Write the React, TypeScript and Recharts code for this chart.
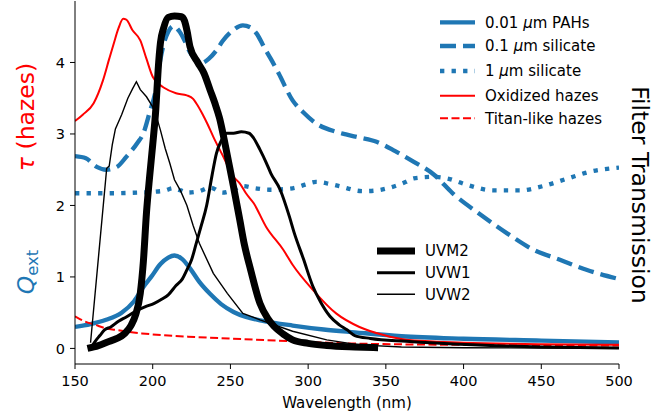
import React from "react";
import { Line, LineChart, XAxis, YAxis } from "recharts";

const FONT = "DejaVu Sans, Verdana, sans-serif";
const BLUE = "#1f77b4";
const RED = "#ff0000";

// x ticks / y ticks
const xTicks = [150, 200, 250, 300, 350, 400, 450, 500];
const yTicks = [0, 1, 2, 3, 4];

// 0.01 um PAHs
const pahWl = [150, 160, 170, 180, 188, 194, 199, 205, 210, 214, 219, 224, 230, 237, 244, 252, 260, 270, 290, 310, 330, 360, 400, 450, 500];
const pahQ = [0.3, 0.34, 0.4, 0.5, 0.66, 0.86, 1.0, 1.18, 1.27, 1.3, 1.25, 1.12, 0.93, 0.76, 0.62, 0.51, 0.44, 0.39, 0.32, 0.265, 0.225, 0.17, 0.135, 0.11, 0.085];

// 0.1 um silicate
const sil01Wl = [150, 157, 164, 170, 177, 183, 190, 194, 198, 202, 205, 207, 210, 213.5, 217, 220, 224, 228, 231, 236, 241, 245, 250, 258, 263, 267, 272, 276, 281, 290, 297, 305, 318, 325, 333, 344, 356, 368, 381, 393, 411, 428, 445, 462, 479, 500];
const sil01Q = [2.69, 2.66, 2.54, 2.5, 2.54, 2.68, 2.87, 3.01, 3.3, 3.62, 4.05, 4.25, 4.43, 4.51, 4.44, 4.33, 4.14, 4.03, 3.99, 4.05, 4.17, 4.3, 4.42, 4.52, 4.49, 4.4, 4.2, 4.05, 3.85, 3.47, 3.3, 3.15, 3.03, 2.99, 2.95, 2.89, 2.76, 2.61, 2.43, 2.17, 1.87, 1.61, 1.38, 1.24, 1.1, 0.97];

// 1 um silicate
const sil1Wl = [150, 170, 190, 200, 208, 213, 218, 222, 230, 237, 245, 252, 258, 266, 275, 290, 298, 305, 312, 320, 335, 344, 351, 363, 368, 381, 389, 402, 419, 436, 451, 466, 481, 500];
const sil1Q = [2.17, 2.17, 2.18, 2.19, 2.21, 2.24, 2.21, 2.18, 2.2, 2.25, 2.18, 2.22, 2.27, 2.24, 2.22, 2.24, 2.29, 2.33, 2.31, 2.27, 2.2, 2.21, 2.24, 2.33, 2.38, 2.4, 2.38, 2.29, 2.21, 2.21, 2.27, 2.37, 2.47, 2.53];

// oxidized hazes
const oxWl = [150, 155, 162, 168, 172, 175, 178, 181, 183, 187, 192, 196, 200, 204, 207, 215, 222, 226, 228, 232, 235, 239, 245, 252, 256, 260, 265, 273, 284, 290, 303, 318, 333, 348, 363, 400, 450, 500];
const oxTau = [3.18, 3.27, 3.43, 3.75, 4.05, 4.27, 4.48, 4.61, 4.6, 4.45, 4.31, 4.05, 3.8, 3.7, 3.65, 3.57, 3.54, 3.49, 3.43, 3.28, 3.15, 2.96, 2.7, 2.4, 2.31, 2.17, 2.03, 1.7, 1.38, 1.17, 0.82, 0.49, 0.3, 0.19, 0.12, 0.08, 0.06, 0.05];

// titan-like hazes
const titanWl = [150, 155, 163, 170, 176, 185, 193, 210, 227, 258, 290, 333, 400, 500];
const titanTau = [0.45, 0.39, 0.33, 0.28, 0.26, 0.23, 0.21, 0.18, 0.16, 0.13, 0.1, 0.066, 0.05, 0.04];

// filters
const uvm2Wl = [158, 165, 171, 177, 182, 186, 189, 192, 194, 196, 198, 200, 202, 203.5, 205, 207, 210, 214, 218.5, 220.5, 222, 224, 229, 233, 237, 240, 243, 246, 248, 252, 256, 259, 263, 269, 274, 278, 284, 290, 300, 312, 330, 345];
const uvm2T = [0, 0.04, 0.09, 0.14, 0.21, 0.32, 0.47, 0.77, 1.22, 1.9, 2.4, 2.85, 3.35, 3.9, 4.28, 4.48, 4.63, 4.65, 4.64, 4.58, 4.45, 4.22, 4.0, 3.85, 3.61, 3.43, 3.22, 2.92, 2.7, 2.26, 1.8, 1.45, 1.1, 0.63, 0.42, 0.31, 0.2, 0.12, 0.07, 0.04, 0.02, 0.01];

const uvw1Wl = [160, 163, 166, 169, 173, 178, 183, 189, 195, 201, 206, 210, 215, 219, 222, 225, 228, 231, 234.7, 238, 241, 244, 247.6, 252, 257, 262, 265, 269, 273, 276, 282, 288, 291, 297, 303, 308, 314, 320, 325, 330, 340, 363, 406, 450, 500];
const uvw1T = [0, 0.1, 0.18, 0.26, 0.3, 0.38, 0.44, 0.52, 0.58, 0.63, 0.69, 0.75, 0.88, 0.97, 1.1, 1.24, 1.47, 1.7, 2.0, 2.4, 2.73, 2.9, 3.01, 3.01, 3.03, 3.01, 2.94, 2.78, 2.6, 2.45, 2.22, 1.84, 1.62, 1.25, 0.87, 0.65, 0.45, 0.33, 0.26, 0.18, 0.14, 0.1, 0.05, 0.02, 0.005];

const uvw2Wl = [160, 170.4, 172, 174, 176, 180, 184, 187, 189.5, 192, 196, 200, 203, 205, 208, 211, 214, 218, 222, 226, 230, 239, 248, 258, 269, 290, 312, 333, 360, 400, 450, 500];
const uvw2T = [0.08, 2.52, 2.55, 2.85, 3.07, 3.27, 3.5, 3.63, 3.73, 3.62, 3.52, 3.38, 3.2, 3.05, 2.8, 2.59, 2.36, 2.2, 2.0, 1.72, 1.47, 1.05, 0.77, 0.49, 0.4, 0.24, 0.12, 0.05, 0.02, 0.01, 0.005, 0];

const zip = (xs: number[], ys: number[]) => xs.map((x, i) => ({ x, y: ys[i] }));

const W = 652;
const H = 417;

export default function App() {
  const lineProps = { dataKey: "y", dot: false, activeDot: false, isAnimationActive: false } as const;
  return (
    <div style={{ position: "absolute", left: 0, top: 0, width: W, height: H, background: "#fff" }}>
      <LineChart width={W} height={H} margin={{ top: 1, right: 33, bottom: 23, left: 0 }}>
        <XAxis
          dataKey="x"
          type="number"
          domain={[150, 500]}
          ticks={xTicks}
          allowDataOverflow
          height={30}
          tickSize={5}
          tickMargin={7}
          axisLine={{ stroke: "#000" }}
          tickLine={{ stroke: "#000" }}
          tick={{ fill: "#000", fontSize: 14.5, fontFamily: FONT }}
        />
        <XAxis xAxisId="top" orientation="top" type="number" domain={[150, 500]} height={0} tick={false} tickLine={false} axisLine={{ stroke: "#000" }} />
        <YAxis
          type="number"
          domain={[-0.218, 4.86]}
          ticks={yTicks}
          allowDataOverflow
          width={75}
          tickSize={5}
          tickMargin={5}
          axisLine={{ stroke: "#000" }}
          tickLine={{ stroke: "#000" }}
          tick={{ fill: "#000", fontSize: 14.5, fontFamily: FONT }}
        />
        <YAxis yAxisId="right" orientation="right" type="number" domain={[-0.218, 4.86]} width={0} tick={false} tickLine={false} axisLine={{ stroke: "#000" }} />

        <Line {...lineProps} data={zip(pahWl, pahQ)} type="monotone" stroke={BLUE} strokeWidth={4.35} />
        <Line {...lineProps} data={zip(sil01Wl, sil01Q)} type="monotone" stroke={BLUE} strokeWidth={4.35} strokeDasharray="16 7" />
        <Line {...lineProps} data={zip(sil1Wl, sil1Q)} type="monotone" stroke={BLUE} strokeWidth={4.35} strokeDasharray="4.35 7.2" />
        <Line {...lineProps} data={zip(oxWl, oxTau)} type="monotone" stroke={RED} strokeWidth={2} />
        <Line {...lineProps} data={zip(titanWl, titanTau)} type="monotone" stroke={RED} strokeWidth={2} strokeDasharray="8 3.5" />
        <Line {...lineProps} data={zip(uvm2Wl, uvm2T)} type="monotone" stroke="#000" strokeWidth={7} />
        <Line {...lineProps} data={zip(uvw1Wl, uvw1T)} type="monotone" stroke="#000" strokeWidth={3} />
        <Line {...lineProps} data={zip(uvw2Wl, uvw2T)} type="linear" stroke="#000" strokeWidth={1.4} />
      </LineChart>

      <svg width={W} height={H} style={{ position: "absolute", left: 0, top: 0, pointerEvents: "none" }} fontFamily={FONT}>
        {/* axis labels */}
        <text x={347} y={408} textAnchor="middle" fontSize={15} fill="#000">
          Wavelength (nm)
        </text>
        <text x={33.5} y={117} textAnchor="middle" fontSize={23.5} fill={RED} transform="rotate(-90 33.5 117)">
          <tspan fontStyle="italic">τ</tspan> (hazes)
        </text>
        <text x={33.5} y={272} textAnchor="middle" fontSize={23.5} fill={BLUE} transform="rotate(-90 33.5 272)">
          <tspan fontStyle="italic">Q</tspan>
          <tspan fontSize={16.5} dy={4}>ext</tspan>
        </text>
        <text x={631.5} y={195} textAnchor="middle" fontSize={23.5} fill="#000" transform="rotate(90 631.5 195)">
          Filter Transmission
        </text>

        {/* upper legend */}
        <line x1={440} x2={475} y1={22.3} y2={22.3} stroke={BLUE} strokeWidth={4.35} />
        <line x1={440} x2={475} y1={46} y2={46} stroke={BLUE} strokeWidth={4.35} strokeDasharray="16 7" />
        <line x1={440} x2={475} y1={71} y2={71} stroke={BLUE} strokeWidth={4.35} strokeDasharray="4.35 7.2" />
        <line x1={440} x2={475} y1={95.7} y2={95.7} stroke={RED} strokeWidth={2} />
        <line x1={440} x2={475} y1={118.3} y2={118.3} stroke={RED} strokeWidth={2} strokeDasharray="8 3.5" />
        <g fontSize={15} fill="#000">
          <text x={485} y={27.5}>
            0.01 <tspan fontStyle="italic">μ</tspan>m PAHs
          </text>
          <text x={485} y={51.3}>
            0.1 <tspan fontStyle="italic">μ</tspan>m silicate
          </text>
          <text x={485} y={76.3}>
            1 <tspan fontStyle="italic">μ</tspan>m silicate
          </text>
          <text x={485} y={101}>Oxidized hazes</text>
          <text x={485} y={123.6}>Titan-like hazes</text>
        </g>

        {/* filter legend */}
        <line x1={377} x2={415} y1={251} y2={251} stroke="#000" strokeWidth={7} />
        <line x1={377} x2={415} y1={272.7} y2={272.7} stroke="#000" strokeWidth={3} />
        <line x1={377} x2={415} y1={294.3} y2={294.3} stroke="#000" strokeWidth={1.4} />
        <g fontSize={15} fill="#000">
          <text x={425} y={256.3}>UVM2</text>
          <text x={425} y={278}>UVW1</text>
          <text x={425} y={299.6}>UVW2</text>
        </g>
      </svg>
    </div>
  );
}
